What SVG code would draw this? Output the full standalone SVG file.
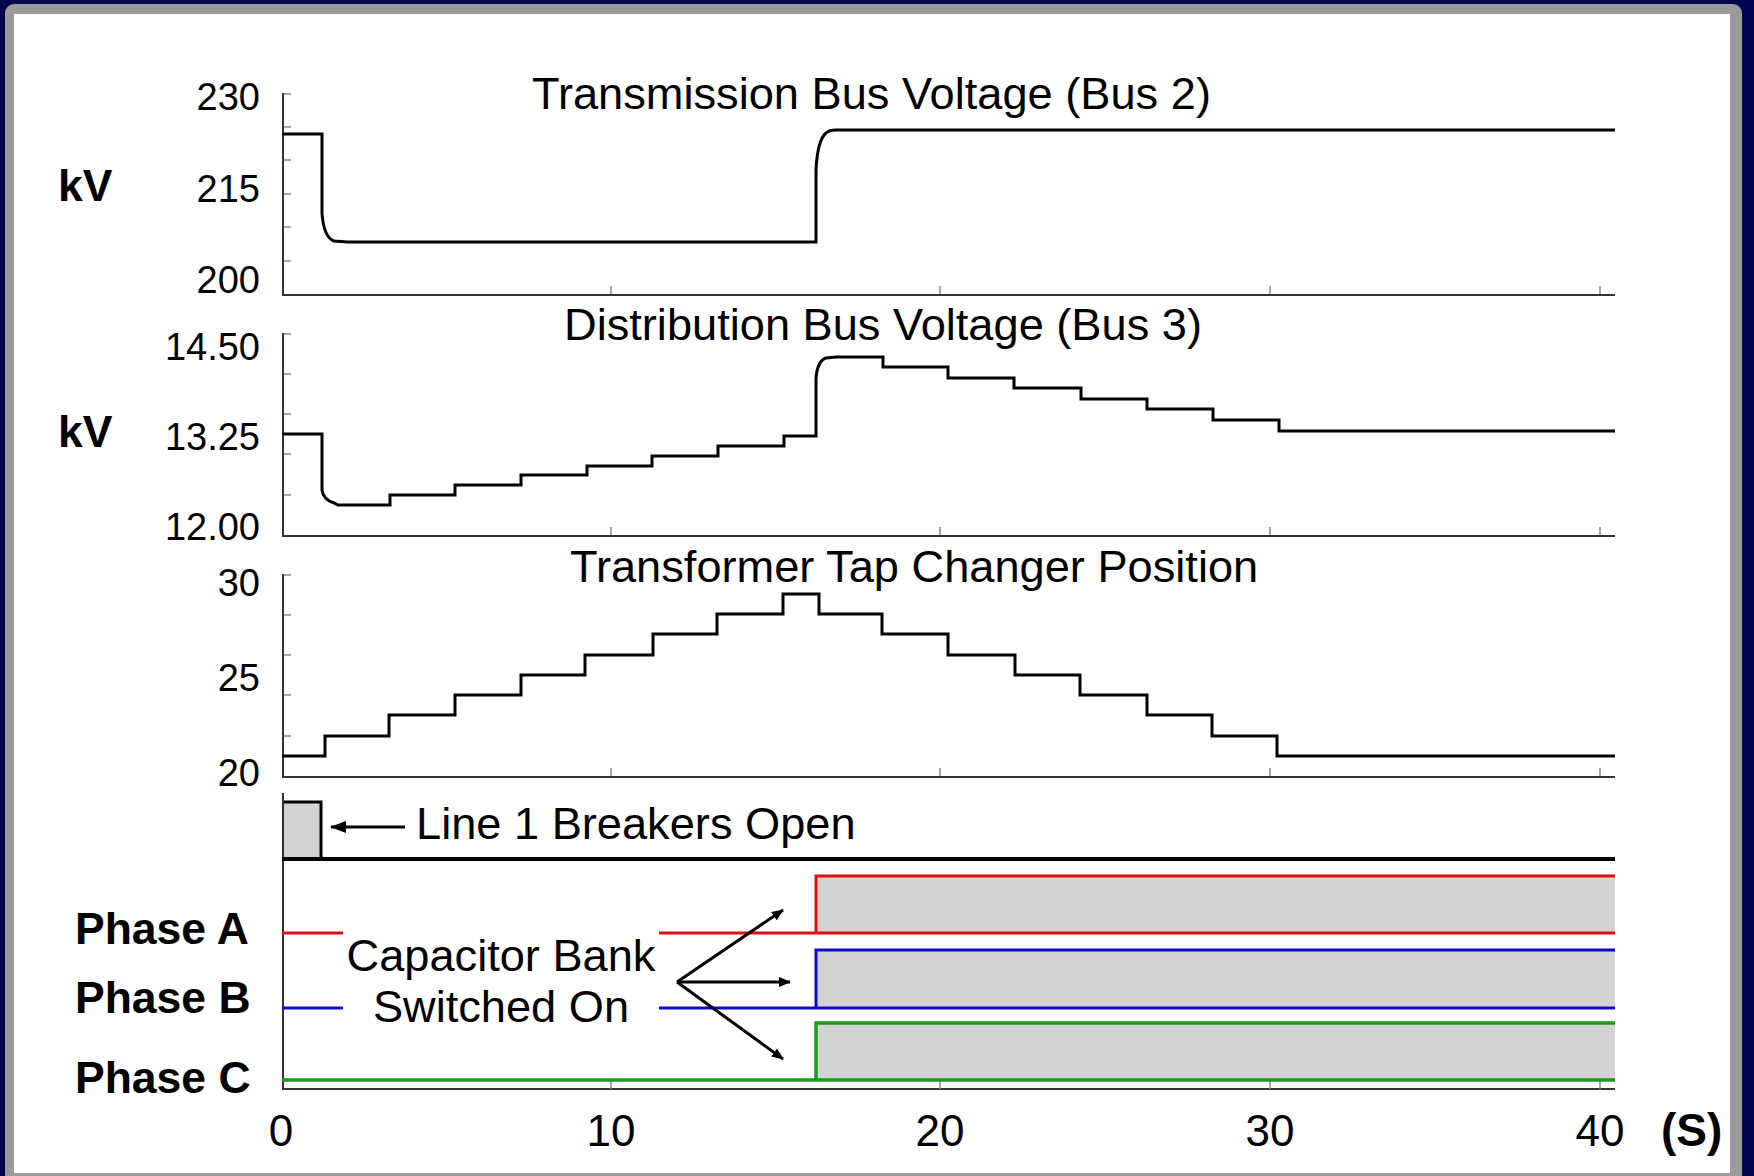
<svg xmlns="http://www.w3.org/2000/svg" width="1754" height="1176" viewBox="0 0 1754 1176">
<style>
text{font-family:"Liberation Sans",Arial,sans-serif;fill:#000}
.yl{font-size:38px;text-anchor:end}
.xl{font-size:44px;text-anchor:middle}
.ttl{font-size:45.2px}
.b{font-weight:bold;font-size:44.5px}
.ax{stroke:#333;stroke-width:2;fill:none}
.tk{stroke:#8a8a8a;stroke-width:1.5;fill:none}
.sig{stroke:#000;stroke-width:3;fill:none;stroke-linejoin:miter}
.fill{fill:#d3d3d3;stroke:none}
.arr{stroke:#000;stroke-width:3;fill:none}
</style>
<defs>
<marker id="ah" viewBox="0 0 12 10" refX="11" refY="5" markerWidth="12" markerHeight="10" markerUnits="userSpaceOnUse" orient="auto">
<path d="M0,0 L12,5 L0,10 Z" fill="#000"/>
</marker>
<marker id="ah2" viewBox="0 0 16 12" refX="15" refY="6" markerWidth="16" markerHeight="12" markerUnits="userSpaceOnUse" orient="auto">
<path d="M0,0 L16,6 L0,12 Z" fill="#000"/>
</marker>
</defs>
<g id="frame">
<rect x="0" y="0" width="1754" height="1176" fill="#03034f"/>
<rect x="5" y="4" width="1737" height="1192" rx="9" fill="#9a9a9a"/>
<rect x="14" y="14" width="1716" height="1159" fill="#fff"/>
</g>
<g id="panel-transmission">
<text class="ttl" x="532" y="109">Transmission Bus Voltage (Bus 2)</text>
<text class="b" x="58" y="201">kV</text>
<text class="yl" x="260" y="110">230</text>
<text class="yl" x="260" y="202">215</text>
<text class="yl" x="260" y="293">200</text>
<path class="tk" d="M283,94h8M283,127h8M283,160h8M283,194h8M283,227h8M283,261h8M611,295v-9M940,295v-9M1270,295v-9M1600,295v-9"/>
<path class="ax" d="M283,93V295H1615"/>
<path class="sig" d="M282,134H322V213C323,228 326,238 334,241L348,242H816V170C817,150 820,138 826,133C829,130 832,130 836,130H1615"/>
</g>
<g id="panel-distribution">
<text class="ttl" x="564" y="340">Distribution Bus Voltage (Bus 3)</text>
<text class="b" x="58" y="447">kV</text>
<text class="yl" x="260" y="360">14.50</text>
<text class="yl" x="260" y="450">13.25</text>
<text class="yl" x="260" y="540">12.00</text>
<path class="tk" d="M283,334h8M283,374h8M283,414h8M283,454h8M283,495h8M611,536v-9M940,536v-9M1270,536v-9M1600,536v-9"/>
<path class="ax" d="M283,333V536H1615"/>
<path class="sig" d="M282,434H322V490C323,497 327,501 334,503L338,505H390V495H455V485H521V475H587V466H652V456H718V446H784V436H816V378C817,366 820,360 826,358L836,357H883V367H948V378H1014V388H1081V399H1147V409H1213V420H1279V431H1615"/>
</g>
<g id="panel-tap">
<text class="ttl" x="570" y="582">Transformer Tap Changer Position</text>
<text class="yl" x="260" y="596">30</text>
<text class="yl" x="260" y="691">25</text>
<text class="yl" x="260" y="786">20</text>
<path class="tk" d="M283,575h8M283,615h8M283,655h8M283,695h8M283,736h8M611,777v-9M940,777v-9M1270,777v-9M1600,777v-9"/>
<path class="ax" d="M283,574V777H1615"/>
<path class="sig" d="M282,756H325V736H389V715H455V695H521V675H585V655H653V634H717V614H783V594H819V614H882V634H948V655H1015V675H1080V695H1147V715H1212V736H1277V756H1615"/>
</g>
<g id="panel-breakers">
<rect class="fill" x="283" y="802" width="38" height="57"/>
<path class="sig" d="M283,802H321V859"/>
<path class="ax" d="M283,793V1089H1615"/>
<path class="tk" d="M611,1089v-9M940,1089v-9M1270,1089v-9M1600,1089v-9"/>
<path d="M282,859H1615" stroke="#000" stroke-width="4" fill="none"/>
<text class="ttl" x="416" y="839">Line 1 Breakers Open</text>
</g>
<g id="phase-a">
<rect class="fill" x="816" y="876" width="799" height="57"/>
<path d="M282,933H343M659,933H816V876H1615M816,933H1615" stroke="#e01010" stroke-width="3" fill="none"/>
<text class="b" x="75" y="944">Phase A</text>
</g>
<g id="phase-b">
<rect class="fill" x="816" y="950" width="799" height="58"/>
<path d="M282,1008H343M659,1008H816V950H1615M816,1008H1615" stroke="#0a0ac8" stroke-width="3" fill="none"/>
<text class="b" x="75" y="1013">Phase B</text>
</g>
<g id="phase-c">
<rect class="fill" x="816" y="1023" width="799" height="57"/>
<path d="M282,1080H816V1023H1615M816,1080H1615" stroke="#1e9a1e" stroke-width="3.5" fill="none"/>
<text class="b" x="75" y="1093">Phase C</text>
</g>
<g id="capacitor-label">
<text class="ttl" x="501" y="971" text-anchor="middle">Capacitor Bank</text>
<text class="ttl" x="501" y="1022" text-anchor="middle">Switched On</text>
</g>
<g id="x-axis">
<text class="xl" x="281" y="1146">0</text>
<text class="xl" x="611" y="1146">10</text>
<text class="xl" x="940" y="1146">20</text>
<text class="xl" x="1270" y="1146">30</text>
<text class="xl" x="1600" y="1146">40</text>
<text class="b" x="1661" y="1146" style="font-size:46px">(S)</text>
</g>
<g id="connectors">
<line class="arr" x1="405" y1="827" x2="331" y2="827" marker-end="url(#ah2)"/>
<line class="arr" x1="677" y1="982" x2="783" y2="910" marker-end="url(#ah)"/>
<line class="arr" x1="677" y1="982" x2="790" y2="982" marker-end="url(#ah)"/>
<line class="arr" x1="677" y1="982" x2="783" y2="1059" marker-end="url(#ah)"/>
</g>
</svg>
